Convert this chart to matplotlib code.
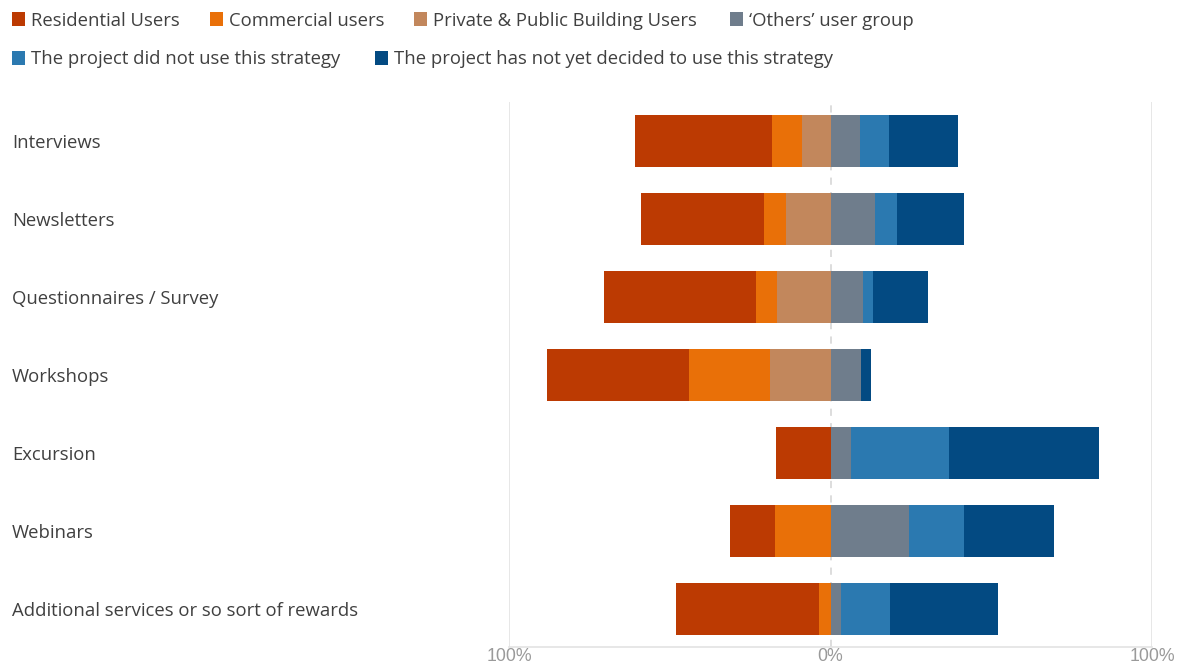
import matplotlib.pyplot as plt
from matplotlib.patches import Rectangle
from matplotlib.transforms import blended_transform_factory
import numpy as np

# strategies, top to bottom
categories = ['Interviews', 'Newsletters', 'Questionnaires / Survey', 'Workshops',
              'Excursion', 'Webinars', 'Additional services or so sort of rewards']

# shares in %, left side of the axis
residential = [42.7, 38.0, 47.1, 44.1, 16.8, 13.9, 44.6]
commercial = [9.2, 7.1, 6.6, 25.4, 0.0, 17.3, 3.6]
private_public = [9.0, 13.7, 16.7, 18.7, 0.0, 0.0, 0.0]
# shares in %, right side of the axis
others = [9.2, 13.7, 10.2, 9.5, 6.5, 24.3, 3.4]
not_used = [9.1, 7.1, 2.9, 0.0, 30.4, 17.2, 15.2]
not_decided = [21.3, 20.8, 17.3, 3.2, 46.6, 28.0, 33.4]

tick_values = [-100, 0, 100]
tick_labels = ['100%', '0%', '100%']

colours = {
   'Residential Users': '#bc3a02',
   'Commercial users': '#e97008',
   'Private & Public Building Users': '#c2875c',
   '\u2018Others\u2019 user group': '#6f7d8c',
   'The project did not use this strategy': '#2b79b0',
   'The project has not yet decided to use this strategy': '#034a82',
}

W, H = 1186, 669
TEXT_COLOUR = '#404040'
FS = 13.3

plt.rcParams['font.family'] = ['Open Sans', 'DejaVu Sans']

fig = plt.figure(figsize=(W / 100, H / 100), dpi=100)
fig.patch.set_facecolor('white')

# axes placed in pixel terms: x from -100% (509px) to +100% (1152px)
left_px, right_px, top_px, bottom_px = 509, 1152, 102, 647
ax = fig.add_axes([left_px / W, 1 - bottom_px / H,
                   (right_px - left_px) / W, (bottom_px - top_px) / H])

y = np.arange(len(categories))
bar_h = 0.67
names = list(colours)

# left side grows outward from the centre: private, commercial, residential
left_series = [private_public, commercial, residential]
left_names = [names[2], names[1], names[0]]
start = np.zeros(len(categories))
for vals, name in zip(left_series, left_names):
   vals = np.array(vals)
   ax.barh(y, -vals, left=-start, height=bar_h, color=colours[name], linewidth=0)
   start += vals

right_series = [others, not_used, not_decided]
right_names = names[3:]
start = np.zeros(len(categories))
for vals, name in zip(right_series, right_names):
   vals = np.array(vals)
   ax.barh(y, vals, left=start, height=bar_h, color=colours[name], linewidth=0)
   start += vals

ax.set_xlim(-100, 100)
ax.set_ylim(len(categories) - 0.51, -0.5)

# grid lines at the ends, dashed line at zero
for v in (-100, 100):
   ax.axvline(v, color='#e3e3e3', linewidth=1.2, zorder=0)
ax.axvline(0, color='#dadada', linewidth=1.3, linestyle=(0, (4, 4)), zorder=0)

for s in ['top', 'right', 'left']:
   ax.spines[s].set_visible(False)
ax.spines['bottom'].set_color('#e3e3e3')
ax.spines['bottom'].set_linewidth(1.2)

ax.set_xticks(tick_values)
ax.set_xticklabels(tick_labels, fontsize=12.8, color='#9a9a9a', family='Liberation Sans')
ax.tick_params(axis='x', length=0, pad=1)
ax.set_yticks([])

# category labels on the far left
label_tr = blended_transform_factory(fig.transFigure, ax.transData)
for yi, label in zip(y, categories):
   ax.text(12 / W, yi + 0.03, label, transform=label_tr, fontsize=FS, color=TEXT_COLOUR,
           ha='left', va='center')

# legend: swatch + text, two rows
def legend_item(x_px, y_px, name):
   sw = 13
   fig.add_artist(Rectangle((x_px / W, 1 - (y_px + sw / 2) / H), sw / W, sw / H,
                            transform=fig.transFigure, color=colours[name], linewidth=0))
   fig.text((x_px + sw + 6) / W, 1 - (y_px + 1.5) / H, name, fontsize=FS,
            color=TEXT_COLOUR, ha='left', va='center')

legend_rows = [
   (19, [(12, names[0]), (210, names[1]), (414, names[2]), (730, names[3])]),
   (58, [(12, names[4]), (375, names[5])]),
]
for y_px, items in legend_rows:
   for x_px, name in items:
      legend_item(x_px, y_px, name)

fig.savefig('out.png', dpi=100, facecolor='white')
plt.close(fig)
